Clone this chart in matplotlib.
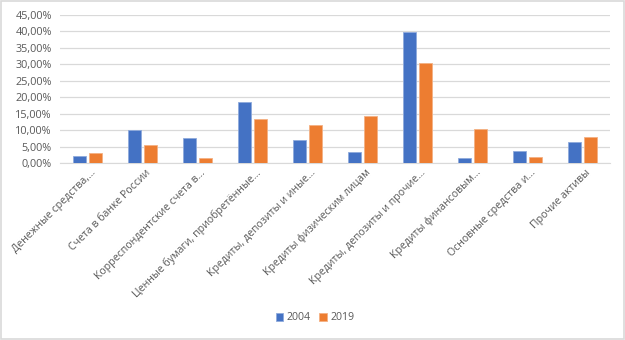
import matplotlib
matplotlib.use("Agg")
import matplotlib.pyplot as plt
import numpy as np
from matplotlib.ticker import FuncFormatter
from matplotlib.patches import Rectangle
from matplotlib.transforms import ScaledTranslation

categories = [
    "Денежные средства,\u2026",
    "Счета в банке России",
    "Корреспондентские счета в\u2026",
    "Ценные бумаги, приобретённые\u2026",
    "Кредиты, депозиты и иные\u2026",
    "Кредиты физическим лицам",
    "Кредиты, депозиты и прочие\u2026",
    "Кредиты финансовым\u2026",
    "Основные средства и\u2026",
    "Прочие активы",
]
s2004 = [2.1, 10.1, 7.5, 18.5, 7.0, 3.3, 39.9, 1.4, 3.6, 6.3]
s2019 = [3.1, 5.5, 1.4, 13.4, 11.5, 14.4, 30.4, 10.3, 1.8, 7.9]
yticks = [0, 5, 10, 15, 20, 25, 30, 35, 40, 45]

plt.rcParams['font.family'] = ['Open Sans', 'DejaVu Sans']
txt = '#595959'

fig = plt.figure(figsize=(6.25, 3.4), dpi=100)
ax = fig.add_axes([60/625, (340-163)/340, 550/625, 148/340])

x = np.arange(len(categories))
w = 0.23
ax.bar(x - w/2 - 0.035, s2004, width=w, color='#4472C4', edgecolor='#8FAADC', linewidth=0.6, label='2004', zorder=3)
ax.bar(x + w/2 + 0.035, s2019, width=w, color='#ED7D31', edgecolor='#F4B183', linewidth=0.6, label='2019', zorder=3)

ax.set_xlim(-0.5, len(categories) - 0.5)
ax.set_ylim(0, 45)
ax.set_yticks(yticks)
ax.yaxis.set_major_formatter(FuncFormatter(lambda v, p: f"{v:.2f}".replace('.', ',') + '%'))
ax.grid(axis='y', color='#D9D9D9', linewidth=0.9, zorder=0)
for s in ['top', 'right', 'left']:
    ax.spines[s].set_visible(False)
ax.spines['bottom'].set_color('#D9D9D9')
ax.tick_params(axis='y', length=0, labelsize=7.8, labelcolor=txt, pad=6)
ax.tick_params(axis='x', length=0, labelsize=7.6, labelcolor=txt, pad=3)
ax.set_xticks(x)
ax.set_xticklabels(categories, rotation=45, ha='right', va='top', rotation_mode='anchor')
off = ScaledTranslation(2.5/100, 0, fig.dpi_scale_trans)
for lab in ax.get_xticklabels():
    lab.set_transform(lab.get_transform() + off)

leg = fig.legend(loc='center', bbox_to_anchor=(315/625, 1 - 318/340), ncol=2, frameon=False,
                 fontsize=7.6, handlelength=0.7, handleheight=0.7, handletextpad=0.35, columnspacing=0.8)
for t in leg.get_texts():
    t.set_color(txt)

fig.patches.append(Rectangle((0.002, 0.003), 0.996, 0.994, transform=fig.transFigure,
                             fill=False, edgecolor='#D9D9D9', linewidth=1.2))

fig.savefig('out.png', dpi=100, facecolor='white')
